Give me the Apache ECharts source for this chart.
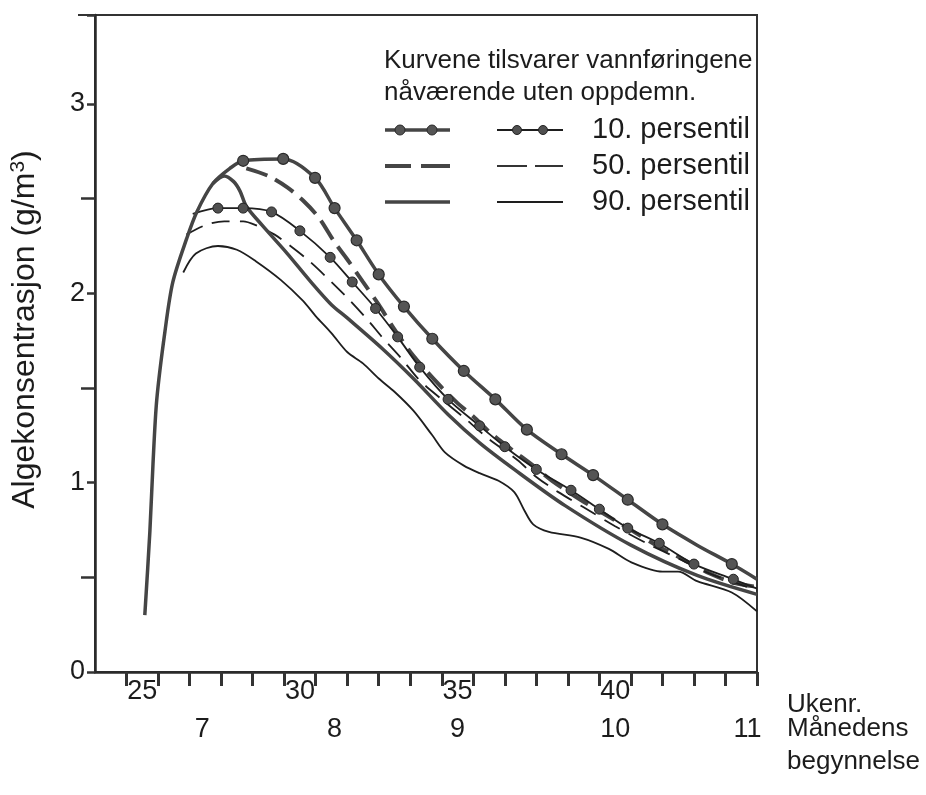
<!DOCTYPE html>
<html><head><meta charset="utf-8">
<script src="https://cdn.jsdelivr.net/npm/echarts@6/dist/echarts.min.js"></script>
<style>html,body{margin:0;padding:0;background:#fff}#c{width:926px;height:795px}</style>
</head><body><div id="c"></div>
<script>
// ---- data (week number, algae concentration g/m3) ----
const weekTicks = [24.5,25.5,26.5,27.5,28.5,29.5,30.5,31.5,32.5,33.5,34.5,35.5,36.5,37.5,38.5,39.5,40.5,41.5,42.5,43.5,44.5];
const weekLabels = [25,30,35,40];
const monthPos = [26.9,31.1,35.0,40.0,44.2];
const monthLabels = ['7','8','9','10','11'];
const yLabels = [0,1,2,3];

// shared steep rise of the "nåværende" curves
const riseNow = [[25.08,0.30],[25.24,0.74],[25.34,1.10],[25.46,1.44],[25.72,1.80],[25.97,2.06],[26.41,2.29],[26.73,2.43],[27.24,2.58],[27.78,2.66]];
// 10. persentil, nåværende (thick, dots)
const p10NowDots = [[28.2,2.70],[29.47,2.71],[30.48,2.61],[31.1,2.45],[31.8,2.28],[32.5,2.10],[33.3,1.93],[34.2,1.76],[35.2,1.59],[36.2,1.44],[37.2,1.28],[38.3,1.15],[39.3,1.04],[40.4,0.91],[41.5,0.78]];
const p10NowTail = [[42.6,0.67]];
const p10NowDots2 = [[43.7,0.57]];
const p10NowEnd = [[44.5,0.49]];
// 10. persentil, uten oppdemn. (thin, dots)
const p10NatStart = [[26.6,2.42]];
const p10NatDots = [[27.4,2.45],[28.2,2.45],[29.1,2.43],[30.0,2.33],[30.96,2.19],[31.66,2.06],[32.4,1.92],[33.1,1.77],[33.8,1.61],[34.7,1.44],[35.7,1.30],[36.5,1.19],[37.5,1.07],[38.6,0.96],[39.5,0.86],[40.4,0.76],[41.4,0.68],[42.5,0.57],[43.75,0.49]];
const p10NatEnd = [[44.5,0.44]];
// 50. persentil, nåværende (thick dashed)
const p50Now = [[28.3,2.66],[29.0,2.62],[29.6,2.56],[30.1,2.49],[30.6,2.40],[31.1,2.27],[31.5,2.18],[32.0,2.06],[32.5,1.94],[33.0,1.81],[33.6,1.67],[34.4,1.52],[35.0,1.42],[35.5,1.35],[36.0,1.27],[36.6,1.19],[37.4,1.09],[38.0,1.01],[38.9,0.91],[39.9,0.81],[40.6,0.74],[41.3,0.67],[42.1,0.60],[43.0,0.52],[43.8,0.47],[44.5,0.45]];
// 50. persentil, uten oppdemn. (thin dashed)
const p50Nat = [[26.4,2.31],[27.0,2.36],[27.6,2.38],[28.2,2.38],[28.6,2.36],[29.2,2.31],[29.7,2.25],[30.3,2.17],[31.0,2.06],[31.6,1.96],[32.2,1.85],[32.6,1.77],[33.2,1.66],[33.8,1.54],[34.5,1.44],[35.3,1.33],[36.0,1.23],[36.9,1.12],[37.5,1.03],[38.2,0.95],[39.0,0.87],[40.0,0.77],[41.0,0.68],[42.0,0.60],[43.0,0.52],[44.0,0.46],[44.5,0.43]];
// 90. persentil, nåværende (thick solid)
const p90Now = [[27.24,2.58],[27.6,2.62],[27.9,2.59],[28.1,2.54],[28.3,2.46],[28.8,2.36],[29.6,2.21],[30.3,2.07],[31.0,1.94],[31.5,1.87],[32.6,1.71],[33.6,1.55],[34.7,1.36],[35.7,1.21],[36.8,1.07],[38.4,0.88],[40.5,0.67],[42.6,0.51],[44.5,0.41]];
// 90. persentil, uten oppdemn. (thin solid)
const p90Nat = [[26.3,2.11],[26.7,2.21],[27.4,2.25],[28.0,2.23],[28.6,2.17],[29.4,2.07],[30.1,1.96],[30.5,1.88],[31.0,1.79],[31.5,1.69],[32.0,1.63],[32.5,1.55],[33.0,1.48],[33.6,1.38],[34.2,1.25],[34.6,1.16],[35.2,1.09],[35.7,1.05],[36.3,1.01],[36.8,0.95],[37.1,0.86],[37.4,0.78],[37.9,0.74],[38.9,0.71],[39.8,0.65],[40.5,0.58],[41.5,0.53],[42.0,0.53],[42.6,0.48],[43.7,0.42],[44.5,0.32]];

// ---- chart ----
const FONT = '"Liberation Sans", Arial, sans-serif';
const INK = '#1c1c1c';
const THICK = '#454545';
const THIN = '#1e1e1e';

const plain = arr => arr.map(p => ({ value: p, symbol: 'none' }));
const dots = arr => arr.map(p => ({ value: p }));

const chart = echarts.init(document.getElementById('c'), null, { renderer: 'canvas' });

const monthMap = {};
monthPos.forEach((p, i) => { monthMap[p.toFixed(2)] = monthLabels[i]; });

const option = {
  animation: false,
  backgroundColor: '#fff',
  textStyle: { fontFamily: FONT, color: INK },
  grid: { left: 93, right: 169, top: 15, bottom: 123, show: true, borderColor: '#333', borderWidth: 2, backgroundColor: 'transparent' },
  xAxis: [
    {
      type: 'value', min: 23.5, max: 44.5, position: 'bottom',
      axisLine: { show: true, onZero: false, lineStyle: { color: '#2a2a2a', width: 2.5 } },
      axisTick: { show: true, customValues: weekTicks, length: 14, lineStyle: { color: '#333', width: 3 } },
      axisLabel: { customValues: weekLabels, fontSize: 27, color: INK, margin: 6, fontFamily: FONT, showMinLabel: true, showMaxLabel: true },
      splitLine: { show: false },
      name: 'Ukenr.', nameLocation: 'end', nameGap: 30,
      nameTextStyle: { fontSize: 26, color: INK, fontFamily: FONT, align: 'left', verticalAlign: 'top', padding: [20, 0, 0, 0] }
    },
    {
      type: 'value', min: 23.5, max: 44.5, position: 'bottom',
      axisLine: { show: false },
      axisTick: { show: false },
      axisLabel: { customValues: monthPos, fontSize: 27, color: INK, margin: 44, fontFamily: FONT, showMinLabel: true, showMaxLabel: true,
        formatter: v => monthMap[Number(v).toFixed(2)] || '' },
      splitLine: { show: false },
      name: 'Månedens\nbegynnelse', nameLocation: 'end', nameGap: 30,
      nameTextStyle: { fontSize: 26, color: INK, fontFamily: FONT, align: 'left', verticalAlign: 'top', lineHeight: 33, padding: [40, 0, 0, 0] }
    }
  ],
  yAxis: {
    type: 'value', min: 0, max: 3.47, interval: 1,
    axisLine: { show: true, lineStyle: { color: '#2a2a2a', width: 2.5 } },
    axisTick: { show: true, length: 8, lineStyle: { color: '#333', width: 2.5 } },
    minorTick: { show: true, splitNumber: 2, length: 14, lineStyle: { color: '#333', width: 2.5 } },
    axisLabel: { fontSize: 27, color: INK, margin: 10, fontFamily: FONT, customValues: yLabels },
    splitLine: { show: false },
    name: 'Algekonsentrasjon (g/m{sup|3})', nameLocation: 'middle', nameGap: 52, nameRotate: 90,
    nameTextStyle: { fontSize: 32, color: INK, fontFamily: FONT, padding: [0, 0, 0, 28],
      rich: { sup: { fontSize: 21, color: INK, fontFamily: FONT, verticalAlign: 'top', padding: [0, 0, 14, 0] } } }
  },
  series: [
    {
      name: '10. persentil (nåværende)', type: 'line', xAxisIndex: 0, smooth: 0.3,
      symbol: 'circle', symbolSize: 11, showAllSymbol: true,
      itemStyle: { color: '#555', borderColor: '#2a2a2a', borderWidth: 1.2 },
      lineStyle: { color: THICK, width: 3.5 },
      data: [].concat(plain(riseNow), dots(p10NowDots), plain(p10NowTail), dots(p10NowDots2), plain(p10NowEnd)), z: 5
    },
    {
      name: '10. persentil (uten oppdemn.)', type: 'line', xAxisIndex: 0, smooth: 0.3,
      symbol: 'circle', symbolSize: 10, showAllSymbol: true,
      itemStyle: { color: '#505050', borderColor: '#222', borderWidth: 1 },
      lineStyle: { color: THIN, width: 1.8 },
      data: [].concat(plain(p10NatStart), dots(p10NatDots), plain(p10NatEnd)), z: 4
    },
    {
      name: '50. persentil (nåværende)', type: 'line', xAxisIndex: 0, smooth: 0.3, showSymbol: false,
      lineStyle: { color: THICK, width: 4, type: [22, 9] },
      data: p50Now, z: 3
    },
    {
      name: '50. persentil (uten oppdemn.)', type: 'line', xAxisIndex: 0, smooth: 0.3, showSymbol: false,
      lineStyle: { color: THIN, width: 1.8, type: [18, 10] },
      data: p50Nat, z: 3
    },
    {
      name: '90. persentil (nåværende)', type: 'line', xAxisIndex: 0, smooth: 0.3, showSymbol: false,
      lineStyle: { color: THICK, width: 3.5 },
      data: p90Now, z: 3
    },
    {
      name: '90. persentil (uten oppdemn.)', type: 'line', xAxisIndex: 0, smooth: 0.3, showSymbol: false,
      lineStyle: { color: THIN, width: 1.8 },
      data: p90Nat, z: 3
    }
  ],
  graphic: [
    { type: 'line', shape: { x1: 78, y1: 15, x2: 94, y2: 15 }, style: { stroke: '#333', lineWidth: 2 } },
    { type: 'text', x: 384, y: 61, style: { text: 'Kurvene tilsvarer vannføringene', fontSize: 26, fontFamily: FONT, fill: INK, verticalAlign: 'middle' } },
    { type: 'text', x: 384, y: 93, style: { text: 'nåværende uten oppdemn.', fontSize: 26, fontFamily: FONT, fill: INK, verticalAlign: 'middle' } },
    // row 1: dotted
    { type: 'line', shape: { x1: 385, y1: 130, x2: 450, y2: 130 }, style: { stroke: THICK, lineWidth: 3.5 } },
    { type: 'circle', shape: { cx: 400, cy: 130, r: 5 }, style: { fill: '#555', stroke: '#2a2a2a', lineWidth: 1 } },
    { type: 'circle', shape: { cx: 432, cy: 130, r: 5 }, style: { fill: '#555', stroke: '#2a2a2a', lineWidth: 1 } },
    { type: 'line', shape: { x1: 497, y1: 130, x2: 563, y2: 130 }, style: { stroke: THIN, lineWidth: 1.8 } },
    { type: 'circle', shape: { cx: 517, cy: 130, r: 4.5 }, style: { fill: '#505050', stroke: '#222', lineWidth: 1 } },
    { type: 'circle', shape: { cx: 543, cy: 130, r: 4.5 }, style: { fill: '#505050', stroke: '#222', lineWidth: 1 } },
    { type: 'text', x: 592, y: 130, style: { text: '10. persentil', fontSize: 29, fontFamily: FONT, fill: INK, verticalAlign: 'middle' } },
    // row 2: dashed
    { type: 'line', shape: { x1: 385, y1: 166, x2: 411, y2: 166 }, style: { stroke: THICK, lineWidth: 4 } },
    { type: 'line', shape: { x1: 421, y1: 166, x2: 450, y2: 166 }, style: { stroke: THICK, lineWidth: 4 } },
    { type: 'line', shape: { x1: 497, y1: 166, x2: 527, y2: 166 }, style: { stroke: THIN, lineWidth: 1.8 } },
    { type: 'line', shape: { x1: 535, y1: 166, x2: 563, y2: 166 }, style: { stroke: THIN, lineWidth: 1.8 } },
    { type: 'text', x: 592, y: 166, style: { text: '50. persentil', fontSize: 29, fontFamily: FONT, fill: INK, verticalAlign: 'middle' } },
    // row 3: solid
    { type: 'line', shape: { x1: 385, y1: 202, x2: 450, y2: 202 }, style: { stroke: THICK, lineWidth: 3.5 } },
    { type: 'line', shape: { x1: 497, y1: 202, x2: 563, y2: 202 }, style: { stroke: THIN, lineWidth: 1.8 } },
    { type: 'text', x: 592, y: 202, style: { text: '90. persentil', fontSize: 29, fontFamily: FONT, fill: INK, verticalAlign: 'middle' } }
  ]
};
chart.setOption(option);
</script></body></html>
